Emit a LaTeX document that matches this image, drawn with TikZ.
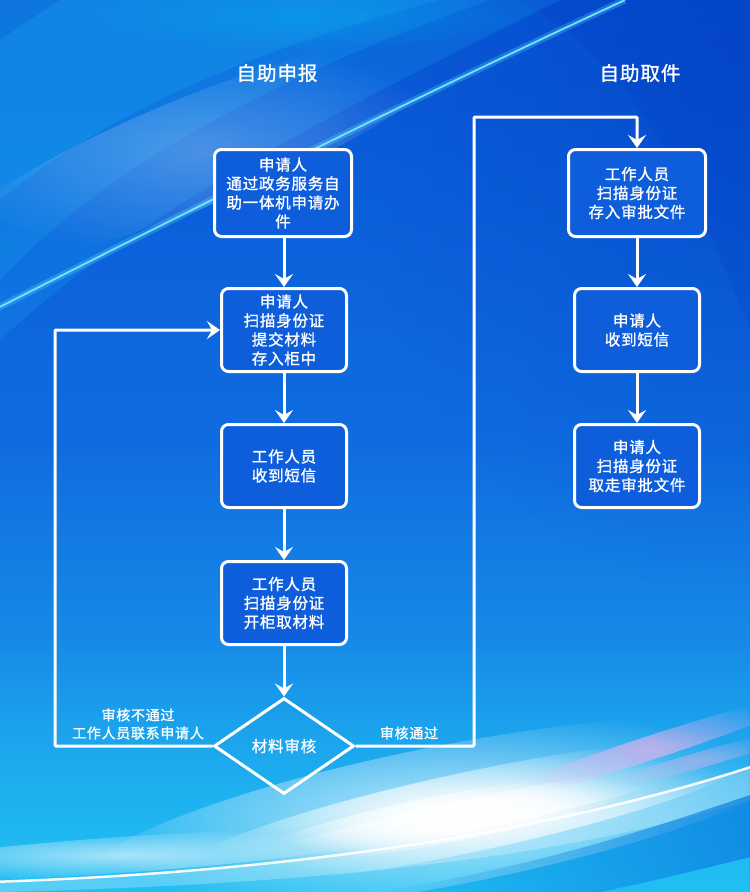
\documentclass[tikz,border=0pt]{standalone}
\usepackage{fontspec}
\setmainfont{Noto Sans CJK SC}
\newfontfamily\cjk[LetterSpace=5,FakeBold=1.2]{Noto Sans CJK SC}
\usetikzlibrary{arrows.meta,shapes.geometric,fadings}
\tikzfading[name=glowfade, inner color=transparent!0, outer color=transparent!100]
\tikzfading[name=leftfade, left color=transparent!100, right color=transparent!0]
\tikzfading[name=topfade, top color=transparent!100, bottom color=transparent!0]
\definecolor{bgtop}{HTML}{0856D6}
\definecolor{bgmid}{HTML}{0F6CE0}
\definecolor{bgbot}{HTML}{20B0F0}
\definecolor{glowc}{HTML}{1CB6F6}
\definecolor{darkc}{HTML}{0030B8}
\definecolor{linec}{HTML}{6FE6FF}
\definecolor{cyanb}{HTML}{22C8F5}
\definecolor{btmr}{HTML}{0C80E0}
\definecolor{pinkc}{HTML}{F4B4EC}
\definecolor{boxfill}{HTML}{0E5EDC}
\tikzset{
  stepbox/.style={draw=white, line width=3pt, rounded corners=7pt, fill=boxfill,
    text=white, align=center, inner sep=0pt,
    font=\fontsize{15.5}{19}\selectfont\cjk},
  widebox/.style={stepbox, minimum width=137pt, minimum height=87pt},
  narrowbox/.style={stepbox, minimum width=125pt, minimum height=83pt},
  decision/.style={draw=white, line width=3pt, diamond, aspect=1.45, inner sep=0pt,
    minimum width=140pt, minimum height=96pt, text=white,
    font=\fontsize{15.5}{19}\selectfont\cjk},
  flow/.style={draw=white, line width=3pt, -{Stealth[length=13pt,width=18pt,inset=5pt]}},
  title/.style={text=white, font=\fontsize{19.5}{22}\selectfont\cjk},
  lbl/.style={text=white, align=center, font=\fontsize{14}{18}\selectfont\cjk},
}
\begin{document}
\begin{tikzpicture}[x=1pt,y=-1pt]
\useasboundingbox (0,0) rectangle (750,892);
\begin{scope}
\clip (0,0) rectangle (750,892);
% ---------- background ----------
\fill[top color=bgtop, bottom color=bgbot, middle color=bgmid] (0,0) rectangle (750,892);
% darker top right
\fill[darkc, opacity=.35, path fading=glowfade] (760,80) ellipse [x radius=420pt, y radius=520pt];
\fill[darkc, opacity=.15] (520,0) -- (750,0) -- (750,330) .. controls (690,180) and (630,60) .. cycle;
% lighter top left
\fill[glowc, opacity=.18] (0,0) -- (560,0) .. controls (380,90) and (150,200) .. (0,340) -- cycle;
\fill[glowc, opacity=.18] (0,0) -- (490,0) .. controls (320,60) and (120,150) .. (0,280) -- cycle;
\fill[glowc, opacity=.22] (60,0) -- (440,0) .. controls (290,40) and (120,100) .. (0,200) -- (0,40) -- cycle;
\fill[white, opacity=.25, path fading=glowfade, rotate around={22:(200,150)}] (200,150) ellipse [x radius=280pt, y radius=55pt];
\fill[cyan, opacity=.4, path fading=glowfade] (300,15) ellipse [x radius=240pt, y radius=36pt];
% diagonal bright line
\draw[linec, opacity=.25, line width=7pt] (-20,317) .. controls (200,205) and (420,95) .. (625,0);
\draw[linec, line width=1.8pt] (-20,317) .. controls (200,205) and (420,95) .. (625,0);
% bottom cyan area
\fill[cyanb, opacity=.65, path fading=topfade] (0,640) rectangle (750,892);
% soft glow band
\fill[white, opacity=.7, path fading=glowfade, rotate around={11:(450,815)}] (450,815) ellipse [x radius=380pt, y radius=70pt];
\fill[white, opacity=1, path fading=glowfade, rotate around={12:(470,812)}] (470,812) ellipse [x radius=300pt, y radius=40pt];
\fill[white, opacity=1, path fading=glowfade, rotate around={11:(450,818)}] (450,818) ellipse [x radius=200pt, y radius=24pt];
\fill[white, opacity=1, path fading=glowfade, rotate around={12:(470,815)}] (470,815) ellipse [x radius=230pt, y radius=16pt];
\fill[white, opacity=.6, path fading=glowfade, rotate around={4:(120,855)}] (120,855) ellipse [x radius=260pt, y radius=18pt];
% pink streaks
\fill[pinkc, opacity=.7, path fading=glowfade, rotate around={18:(650,748)}] (650,748) ellipse [x radius=170pt, y radius=12pt];
\fill[pinkc, opacity=.45, path fading=glowfade, rotate around={16:(700,760)}] (700,760) ellipse [x radius=120pt, y radius=8pt];
% light cyan below the line
\fill[white, opacity=.25] (0,882) .. controls (300,872) and (560,830) .. (750,768) -- (750,800) .. controls (560,860) and (300,885) .. (0,892) -- cycle;
% blue wedge bottom right
\fill[btmr, opacity=.75, path fading=leftfade] (380,892) .. controls (560,862) and (680,818) .. (750,795) -- (750,857) .. controls (690,872) and (640,884) .. (600,892) -- cycle;
% thin white curve
\draw[white, opacity=.95, line width=2.5pt] (-10,882) .. controls (300,872) and (560,830) .. (760,764);
\end{scope}
% ---------- titles ----------
\node[title] (t1) at (277,73) {自助申报};
\node[title] (t2) at (640,73) {自助取件};
% ---------- left column ----------
\node[widebox] (b1) at (283,193) {申请人\\通过政务服务自\\助一体机申请办\\件};
\node[narrowbox] (b2) at (284,330) {申请人\\扫描身份证\\提交材料\\存入柜中};
\node[narrowbox] (b3) at (284,466) {工作人员\\收到短信};
\node[narrowbox] (b4) at (284,603) {工作人员\\扫描身份证\\开柜取材料};
\node[decision] (d) at (284,746) {材料审核};
% ---------- right column ----------
\node[widebox] (r1) at (637,193) {工作人员\\扫描身份证\\存入审批文件};
\node[narrowbox] (r2) at (637,330) {申请人\\收到短信};
\node[narrowbox] (r3) at (637,466) {申请人\\扫描身份证\\取走审批文件};
% ---------- connectors ----------
\coordinate (lc1) at (55,746);
\coordinate (lc2) at (55,330);
\coordinate (rc1) at (474,746);
\coordinate (rc2) at (474,117);
\coordinate (rc3) at (637,117);
\draw[flow] (b1.south -| b2.south) -- (b2.north);
\draw[flow] (b2) -- (b3);
\draw[flow] (b3) -- (b4);
\draw[flow] (b4) -- (d.north);
\draw[flow, rounded corners=1pt] (d.west) -- (lc1) -- (lc2) -- (b2.west);
\draw[flow, rounded corners=1pt] (d.east) -- (rc1) -- (rc2) -- (rc3) -- (r1.north);
\draw[flow] (r1) -- (r2);
\draw[flow] (r2) -- (r3);
% ---------- labels ----------
\node[lbl] (l1) at (138,724) {审核不通过\\工作人员联系申请人};
\node[lbl] (l2) at (409,733) {审核通过};
\end{tikzpicture}
\end{document}
